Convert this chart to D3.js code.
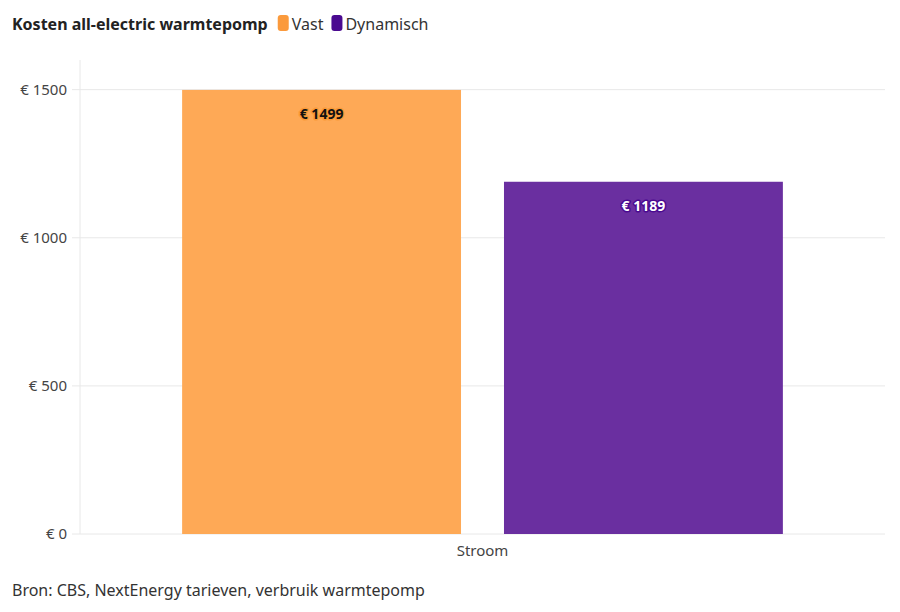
<!DOCTYPE html>
<html>
<head>
<meta charset="utf-8">
<script src="https://cdn.jsdelivr.net/npm/d3@7"></script>
<style>
  body { margin: 0; background: #fff; font-family: "Noto Sans", sans-serif; }
</style>
</head>
<body>
<svg id="chart" width="900" height="612"></svg>
<script>
var categories = ["Stroom"];
var series = ["Vast", "Dynamisch"];
var values = [1499, 1189];
var yTicks = [0, 500, 1000, 1500];
var barColors = ["#fea956", "#6a2fa0"];
var legendColors = ["#fb9a3c", "#4a0a90"];
var haloColors = ["#f99a38", "#4a0a90"];
var textColors = ["#111", "#fff"];

var svg = d3.select("#chart");
var plotLeft = 80, plotRight = 885, plotTop = 60, plotBottom = 534;

var y = d3.scaleLinear().domain([0, 1600]).range([plotBottom, plotTop]);
var x0 = d3.scaleBand().domain(categories).range([plotLeft, plotRight]).paddingInner(0).paddingOuter(0.17);
var x1 = d3.scaleBand().domain(series).range([0, x0.bandwidth()]).paddingInner(0.1335);

// grid
svg.append("g").selectAll("line").data(yTicks).enter().append("line")
  .attr("x1", plotLeft - 8).attr("x2", plotRight)
  .attr("y1", function (d) { return y(d); }).attr("y2", function (d) { return y(d); })
  .attr("stroke", "#e8e8e8");
svg.append("line").attr("x1", plotLeft).attr("x2", plotLeft).attr("y1", plotTop).attr("y2", plotBottom).attr("stroke", "#e8e8e8");

var yAxis = svg.append("g").attr("transform", "translate(" + (plotLeft - 10) + ",0)")
  .call(d3.axisLeft(y).tickValues(yTicks).tickSize(0).tickFormat(function (d) { return "€ " + d; }))
  .attr("font-size", 15).attr("font-family", "Noto Sans");
yAxis.select(".domain").remove();
yAxis.selectAll("text").attr("fill", "#444");

var xAxis = svg.append("g").attr("transform", "translate(0," + (plotBottom + 8) + ")")
  .call(d3.axisBottom(x0).tickSize(0))
  .attr("font-size", 15).attr("font-family", "Noto Sans");
xAxis.select(".domain").remove();
xAxis.selectAll("text").attr("fill", "#444");

var g = svg.append("g").attr("transform", "translate(" + x0("Stroom") + ",0)");
g.selectAll("rect").data(values).enter().append("rect")
  .attr("x", function (d, i) { return x1(series[i]); })
  .attr("y", function (d) { return y(d); })
  .attr("width", x1.bandwidth())
  .attr("height", function (d) { return plotBottom - y(d); })
  .attr("fill", function (d, i) { return barColors[i]; });

g.selectAll("text.val").data(values).enter().append("text")
  .attr("class", "val")
  .attr("x", function (d, i) { return x1(series[i]) + x1.bandwidth() / 2; })
  .attr("y", function (d) { return y(d) + 29; })
  .attr("text-anchor", "middle")
  .attr("font-size", 14).attr("font-weight", "bold")
  .attr("paint-order", "stroke")
  .attr("stroke", function (d, i) { return haloColors[i]; })
  .attr("stroke-width", 3).attr("stroke-linejoin", "round")
  .attr("fill", function (d, i) { return textColors[i]; })
  .text(function (d) { return "€ " + d; });

// title + legend
var title = svg.append("text").attr("x", 12).attr("y", 30)
  .attr("font-size", 16).attr("font-weight", "bold").attr("fill", "#222")
  .text("Kosten all-electric warmtepomp");
var lx = title.node().getComputedTextLength() + 12 + 10;
series.forEach(function (s, i) {
  svg.append("rect").attr("x", lx).attr("y", 15).attr("width", 11).attr("height", 16).attr("rx", 3)
    .attr("fill", legendColors[i]);
  var t = svg.append("text").attr("x", lx + 14).attr("y", 30).attr("font-size", 16).attr("fill", "#333").text(s);
  lx += 14 + t.node().getComputedTextLength() + 8;
});

svg.append("text").attr("x", 12).attr("y", 596).attr("font-size", 16).attr("fill", "#333")
  .text("Bron: CBS, NextEnergy tarieven, verbruik warmtepomp");
</script>
</body>
</html>
